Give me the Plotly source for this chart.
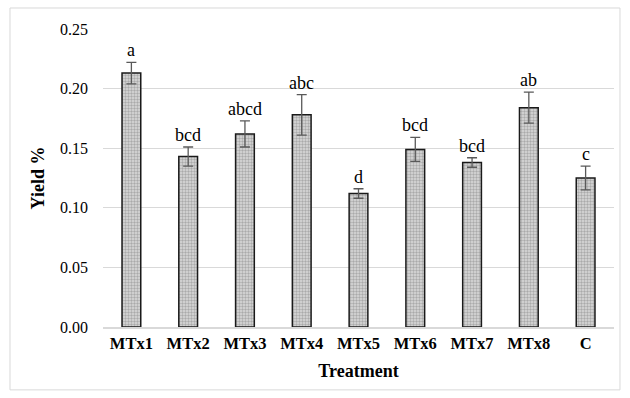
import plotly.graph_objects as go

categories = ["MTx1", "MTx2", "MTx3", "MTx4", "MTx5", "MTx6", "MTx7", "MTx8", "C"]
yield_pct = [0.213, 0.143, 0.162, 0.178, 0.112, 0.149, 0.138, 0.184, 0.125]
errors = [0.009, 0.008, 0.011, 0.017, 0.004, 0.010, 0.004, 0.013, 0.010]
letters = ["a", "bcd", "abcd", "abc", "d", "bcd", "bcd", "ab", "c"]
y_ticks = [0.00, 0.05, 0.10, 0.15, 0.20, 0.25]

FONT = "Liberation Serif, Times New Roman, serif"

fig = go.Figure()
fig.add_trace(go.Bar(
    x=categories, y=yield_pct,
    width=0.33,
    marker=dict(
        color="#c0c0c0",
        line=dict(color="#1a1a1a", width=1.5),
        pattern=dict(shape=".", size=3, solidity=0.5, fgcolor="#777777", bgcolor="#dcdcdc"),
    ),
    error_y=dict(type="data", array=errors, visible=True, color="#595959", thickness=1.3, width=5),
    hoverinfo="skip",
))

for c, v, e, t in zip(categories, yield_pct, errors, letters):
    fig.add_annotation(x=c, y=v + e, text=t, showarrow=False, yanchor="bottom", yshift=0,
                       font=dict(family=FONT, size=18, color="#000"))

fig.add_shape(type="rect", xref="paper", yref="paper", x0=-0.182, x1=1.0117, y0=-0.211, y1=1.0705,
              line=dict(color="#d9d9d9", width=1), fillcolor="rgba(0,0,0,0)", layer="below")

fig.update_layout(
    width=630, height=398,
    margin=dict(l=103, r=16, t=29, b=71),
    paper_bgcolor="white", plot_bgcolor="white",
    showlegend=False,
    font=dict(family=FONT, color="#000"),
    xaxis=dict(
        title=dict(text="<b>Treatment</b>", font=dict(family=FONT, size=18), standoff=13),
        tickfont=dict(family=FONT, size=16.5),
        tickprefix="<b>", ticksuffix="</b>",
        showline=True, linecolor="#d9d9d9", linewidth=1.5,
        ticks="", showgrid=False,
    ),
    yaxis=dict(
        title=dict(text="<b>Yield %</b>", font=dict(family=FONT, size=18), standoff=10),
        range=[0, 0.25], tickvals=y_ticks, tickformat=".2f",
        tickfont=dict(family=FONT, size=16),
        ticklabelstandoff=14,
        showgrid=True, gridcolor="#d9d9d9", gridwidth=1,
        zeroline=False, showline=False, ticks="",
    ),
)

fig.write_html("out.html", config={"displayModeBar": False},
               post_script="document.body.style.margin='0';document.body.style.padding='0';")
